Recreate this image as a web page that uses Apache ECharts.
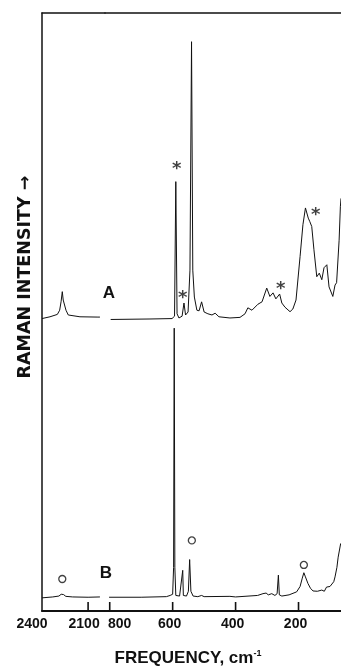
<!DOCTYPE html>
<html>
<head>
<meta charset="utf-8">
<script src="https://cdn.jsdelivr.net/npm/echarts@6/dist/echarts.min.js"></script>
<style>
  html, body { margin: 0; padding: 0; background: #fff; }
  #chart { width: 341px; height: 667px; }
</style>
</head>
<body>
<div id="chart"></div>
<script>
// wavenumbers (cm-1) and relative Raman intensity
// high-frequency piece (left of the axis break)
const aHighWn = [2400, 2348, 2300, 2285, 2276, 2268, 2262, 2257, 2244, 2229, 2153, 2036, 2023];
const aHighI  = [-0.1, 0.2, 0.6, 1.3, 2.7, 4.4, 3.0, 2.7, 1.3, 0.5, 0.2, 0.15, 0.15];
const bHighWn = [2400, 2330, 2290, 2275, 2268, 2260, 2245, 2200, 2100, 2023];
const bHighI  = [-0.1, 0.05, 0.2, 0.5, 0.7, 0.45, 0.15, 0.05, 0, 0.05];

// low-frequency piece (right of the break)
const aLowWn = [797, 672, 602, 594, 590, 586, 580, 570, 564, 559, 551, 545, 540, 536, 531, 523, 516,
  508, 500, 488, 475, 465, 453, 418, 386, 370, 361, 348, 329, 316, 301, 291, 281, 272, 260, 253,
  243, 227, 218, 208, 195, 186, 178, 169, 164, 158, 151, 142, 134, 126, 119, 110, 103, 91, 84, 79,
  71, 67, 65];
const aLowI = [-0.25, -0.17, -0.1, 0.3, 22.8, 0.7, 0, 0.3, 2.5, 0.5, 1.0, 8.0, 46.2, 8.0, 3.5, 1.3, 1.2,
  2.7, 1.0, 0.7, 0.5, 0.8, 0.2, 0, 0.1, 0.7, 1.7, 1.3, 2.3, 2.7, 5.0, 3.6, 4.2, 3.2, 4.0, 2.5,
  1.8, 1.05, 1.5, 3.0, 10.3, 15.6, 18.4, 16.7, 16.1, 15.3, 11.4, 6.9, 7.5, 6.4, 8.4, 8.9, 5.2, 3.6, 5.5, 5.9,
  13.0, 18.6, 20.0];

const bLowWn = [802, 700, 620, 608, 600, 597, 595, 593, 590, 578, 572, 568, 566, 556, 550, 546, 542,
  535, 520, 508, 500, 418, 400, 330, 313, 303, 296, 285, 275, 268, 264, 261, 253, 230, 206, 195,
  188, 183, 178, 170, 162, 154, 140, 126, 118, 111, 100, 95, 88, 84, 78, 74, 66];
const bLowI = [0, 0, 0.1, 0.3, 0.5, 5, 45, 5, 0.3, 0.2, 0.5, 4.5, 0.3, 0.2, 1.0, 6.3, 1.0,
  0.2, 0.1, 0.3, 0.1, 0.15, 0.05, 0.3, 0.6, 0.7, 0.4, 0.6, 0.3, 0.6, 3.7, 0.4, 0.2, 0.4, 0.9, 1.8,
  3.2, 4.1, 3.4, 2.3, 1.5, 1.05, 1.0, 1.2, 1.0, 1.7, 1.8, 2.0, 2.6, 3.4, 5.0, 6.7, 9.0];

// vertical offsets of the two stacked traces
const offsetA = 49.0;
const offsetB = 2.3;

// annotation marks [wavenumber, plotted height]
const starMarks = [[587, 74.6], [568, 53.0], [257, 54.5], [145, 66.8]];
const circleHigh = [[2268, 5.35]];
const circleLow = [[539, 11.8], [183, 7.7]];

const highTicks = [2400, 2100];
const highTickMarks = [2100];
const lowTicks = [800, 600, 400, 200];

const zip = (xs, ys, off) => xs.map((x, i) => [x, ys[i] + off]);

const chart = echarts.init(document.getElementById('chart'), null, { renderer: 'canvas' });

const ink = '#111';
const sans = 'Liberation Sans, Arial, sans-serif';
const tickFont = { fontFamily: sans, fontWeight: 'bold', fontSize: 14, color: ink };
const traceStyle = { color: ink, width: 1 };

const option = {
    backgroundColor: '#fff',
    animation: false,
    grid: [
        { left: 42, top: 13, width: 63, height: 598 },
        { left: 105, top: 13, width: 236, height: 598 }
    ],
    xAxis: [
        {
            gridIndex: 0, type: 'value', min: 1990, max: 2400, inverse: true,
            axisLine: { onZero: false, lineStyle: { color: ink, width: 2 } },
            axisTick: { show: false },
            axisLabel: {
                customValues: highTicks, margin: 6,
                formatter: v => (v === 2400 ? '{l|' + v + '}' : '{m|' + v + '}'),
                rich: { l: { ...tickFont, padding: [0, 20, 0, 0] }, m: { ...tickFont, padding: [0, 8, 0, 0] } }
            },
            splitLine: { show: false }
        },
        {
            gridIndex: 1, type: 'value', min: 65, max: 815, inverse: true,
            axisLine: { onZero: false, lineStyle: { color: ink, width: 2 } },
            axisTick: { show: false },
            axisLabel: {
                customValues: lowTicks, margin: 6,
                formatter: v => (v === 800 ? '{r|' + v + '}' : '{c|' + v + '}'),
                rich: { r: { ...tickFont, padding: [0, 0, 0, 20] }, c: { ...tickFont, padding: [0, 6, 0, 0] } }
            },
            splitLine: { show: false }
        },
        {
            gridIndex: 0, type: 'value', position: 'top', min: 1990, max: 2400, inverse: true,
            axisLine: { onZero: false, lineStyle: { color: ink, width: 1.5 } },
            axisTick: { show: false }, axisLabel: { show: false }, splitLine: { show: false }
        },
        {
            gridIndex: 1, type: 'value', position: 'top', min: 65, max: 815, inverse: true,
            axisLine: { onZero: false, lineStyle: { color: ink, width: 1.5 } },
            axisTick: { show: false }, axisLabel: { show: false }, splitLine: { show: false }
        }
    ],
    yAxis: [
        {
            gridIndex: 0, type: 'value', min: 0, max: 100,
            axisLine: { show: true, onZero: false, lineStyle: { color: ink, width: 1.5 } },
            axisTick: { show: false }, axisLabel: { show: false }, splitLine: { show: false }
        },
        { gridIndex: 1, type: 'value', min: 0, max: 100, show: false, splitLine: { show: false } }
    ],
    series: [
        { name: 'A', type: 'line', xAxisIndex: 0, yAxisIndex: 0, data: zip(aHighWn, aHighI, offsetA),
          showSymbol: false, lineStyle: traceStyle },
        { name: 'A', type: 'line', xAxisIndex: 1, yAxisIndex: 1, data: zip(aLowWn, aLowI, offsetA),
          showSymbol: false, lineStyle: traceStyle },
        { name: 'B', type: 'line', xAxisIndex: 0, yAxisIndex: 0, data: zip(bHighWn, bHighI, offsetB),
          showSymbol: false, lineStyle: traceStyle },
        { name: 'B', type: 'line', xAxisIndex: 1, yAxisIndex: 1, data: zip(bLowWn, bLowI, offsetB),
          showSymbol: false, lineStyle: traceStyle },
        {
            type: 'scatter', xAxisIndex: 1, yAxisIndex: 1, data: starMarks, symbolSize: 0,
            label: {
                show: true, formatter: '*', position: 'inside', offset: [0, 4],
                fontFamily: 'DejaVu Sans', fontWeight: 'bold', fontSize: 18, color: ink
            }
        },
        {
            type: 'scatter', xAxisIndex: 0, yAxisIndex: 0, data: circleHigh, symbol: 'circle', symbolSize: 7,
            itemStyle: { color: '#fff', borderColor: ink, borderWidth: 1.3 }
        },
        {
            type: 'scatter', xAxisIndex: 1, yAxisIndex: 1, data: circleLow, symbol: 'circle', symbolSize: 7,
            itemStyle: { color: '#fff', borderColor: ink, borderWidth: 1.3 }
        }
    ],
    graphic: [
        {
            type: 'text', x: 25, y: 277, rotation: Math.PI / 2,
            style: {
                text: 'RAMAN INTENSITY →', fill: ink, align: 'center', verticalAlign: 'middle',
                fontFamily: 'DejaVu Sans', fontWeight: 'bold', fontSize: 17.5
            }
        },
        {
            type: 'text', x: 188, y: 658,
            style: {
                text: '{a|FREQUENCY, cm}{s|-1}', align: 'center', verticalAlign: 'middle',
                rich: {
                    a: { fontFamily: sans, fontWeight: 'bold', fontSize: 17, fill: ink, lineHeight: 18 },
                    s: { fontFamily: sans, fontWeight: 'bold', fontSize: 9, fill: ink, lineHeight: 18, verticalAlign: 'top' }
                }
            }
        },
        {
            type: 'text', x: 109, y: 293,
            style: { text: 'A', fill: ink, align: 'center', verticalAlign: 'middle',
                fontFamily: sans, fontWeight: 'bold', fontSize: 17 }
        },
        {
            type: 'text', x: 106, y: 573,
            style: { text: 'B', fill: ink, align: 'center', verticalAlign: 'middle',
                fontFamily: sans, fontWeight: 'bold', fontSize: 17 }
        }
    ]
};

chart.setOption(option);

// inward tick marks on the bottom axis, placed through the axes' own scales
const tickMarks = [];
[[0, highTickMarks], [1, lowTicks]].forEach(([gi, values]) => {
    values.forEach(v => {
        const p = chart.convertToPixel({ gridIndex: gi }, [v, 0]);
        tickMarks.push({
            type: 'line', z: 100,
            shape: { x1: p[0], y1: p[1], x2: p[0], y2: p[1] - 9 },
            style: { stroke: ink, lineWidth: 1.6 }
        });
    });
});
chart.setOption({ graphic: option.graphic.concat(tickMarks) });

window.addEventListener('resize', () => chart.resize());
</script>
</body>
</html>
